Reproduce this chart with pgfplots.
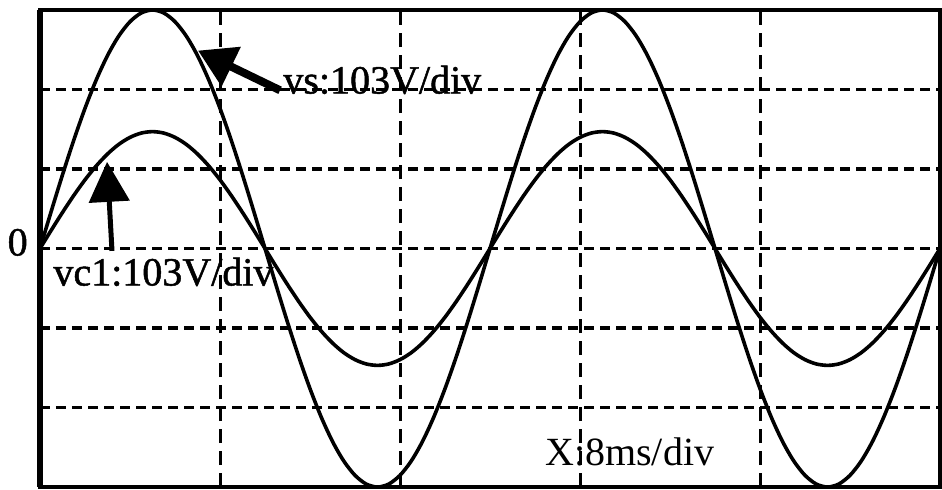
\documentclass[border=0pt]{standalone}
\usepackage{pgfplots}
\pgfplotsset{compat=1.18}
\usepackage{pgfplotstable}
\usepackage{fontspec}
\setmainfont{Liberation Serif}
\newfontfamily\scopefont[FakeBold=1.2]{Liberation Serif}
\usetikzlibrary{arrows.meta}

% time in ms, traces in screen divisions
\pgfplotstableread{
t vs vc
0 0 0
0.5 0.469 0.230
1 0.927 0.454
1.5 1.362 0.667
2 1.763 0.864
2.5 2.121 1.039
3 2.427 1.189
3.5 2.673 1.310
4 2.853 1.398
4.5 2.963 1.452
5 3.000 1.470
5.5 2.963 1.452
6 2.853 1.398
6.5 2.673 1.310
7 2.427 1.189
7.5 2.121 1.039
8 1.763 0.864
8.5 1.362 0.667
9 0.927 0.454
9.5 0.469 0.230
10 0 0
10.5 -0.469 -0.230
11 -0.927 -0.454
11.5 -1.362 -0.667
12 -1.763 -0.864
12.5 -2.121 -1.039
13 -2.427 -1.189
13.5 -2.673 -1.310
14 -2.853 -1.398
14.5 -2.963 -1.452
15 -3.000 -1.470
15.5 -2.963 -1.452
16 -2.853 -1.398
16.5 -2.673 -1.310
17 -2.427 -1.189
17.5 -2.121 -1.039
18 -1.763 -0.864
18.5 -1.362 -0.667
19 -0.927 -0.454
19.5 -0.469 -0.230
20 0 0
20.5 0.469 0.230
21 0.927 0.454
21.5 1.362 0.667
22 1.763 0.864
22.5 2.121 1.039
23 2.427 1.189
23.5 2.673 1.310
24 2.853 1.398
24.5 2.963 1.452
25 3.000 1.470
25.5 2.963 1.452
26 2.853 1.398
26.5 2.673 1.310
27 2.427 1.189
27.5 2.121 1.039
28 1.763 0.864
28.5 1.362 0.667
29 0.927 0.454
29.5 0.469 0.230
30 0 0
30.5 -0.469 -0.230
31 -0.927 -0.454
31.5 -1.362 -0.667
32 -1.763 -0.864
32.5 -2.121 -1.039
33 -2.427 -1.189
33.5 -2.673 -1.310
34 -2.853 -1.398
34.5 -2.963 -1.452
35 -3.000 -1.470
35.5 -2.963 -1.452
36 -2.853 -1.398
36.5 -2.673 -1.310
37 -2.427 -1.189
37.5 -2.121 -1.039
38 -1.763 -0.864
38.5 -1.362 -0.667
39 -0.927 -0.454
39.5 -0.469 -0.230
40 0 0
}\scope

\begin{document}
\begin{tikzpicture}
\useasboundingbox (-20pt,-1pt) rectangle (451pt,243.5pt);
\begin{axis}[
  at={(0,0)}, anchor=south west,
  scale only axis, width=450pt, height=238.5pt,
  xmin=0, xmax=40, ymin=-3, ymax=3,
  xtick={0,8,...,40}, ytick={-3,-2,...,3},
  xticklabels={}, yticklabels={},
  major tick length=0pt,
  grid=major,
  major x grid style={black, line width=1.5pt, dash pattern=on 7pt off 4pt},
  major y grid style={black, line width=1.7pt, dash pattern=on 5pt off 3pt},
  axis line style={black, line width=2pt},
  clip=false,
]
\addplot[black, line width=1.8pt, smooth] table[x=t, y=vs] {\scope};
\addplot[black, line width=1.8pt, smooth] table[x=t, y=vc] {\scope};

% left edge of the screen is drawn heavier
\draw[black, line width=3.2pt] (rel axis cs:0,0) -- (rel axis cs:0,1);

% probe annotations
\draw[black, line width=4pt, -{Triangle[length=18.5pt,width=21pt]}]
  (axis cs:10.67,1.99) -- (axis cs:7.02,2.49);
\draw[black, line width=2.5pt, -{Triangle[length=20pt,width=20pt]}]
  (axis cs:3.2,-0.03) -- (axis cs:2.98,1.09);

\node[anchor=base west, inner sep=0pt, font=\scopefont\fontsize{20}{24}\selectfont]
  at (axis cs:10.8,1.95) {vs:103V/div};
\node[anchor=base west, inner sep=0pt, font=\scopefont\fontsize{20}{24}\selectfont]
  at (axis cs:0.58,-0.465) {vc1:103V/div};
\node[anchor=base west, inner sep=0pt, font=\fontsize{20}{24}\selectfont]
  at (axis cs:22.44,-2.73) {X:8ms/div};
\node[anchor=base east, inner sep=0pt, font=\scopefont\fontsize{20}{24}\selectfont]
  at (axis cs:-0.53,-0.088) {0};
\end{axis}
\end{tikzpicture}
\end{document}
